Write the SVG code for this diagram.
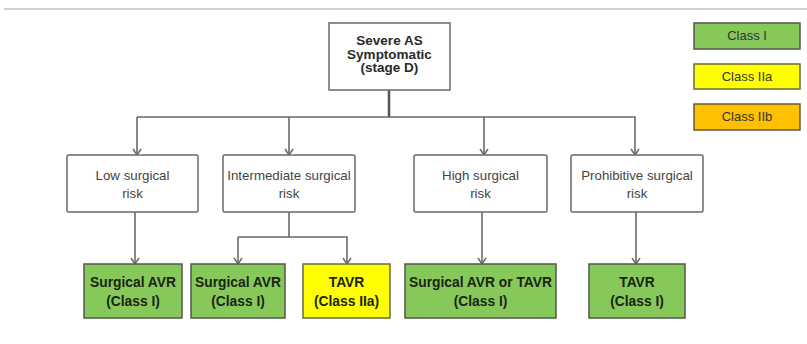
<svg xmlns="http://www.w3.org/2000/svg" width="807" height="344" viewBox="0 0 807 344">
<defs>
<style>
.box{fill:#fff;stroke:#6a6a6a;stroke-width:1.5}
.g{fill:#86c95a;stroke:#4f5a48;stroke-width:1.5}
.y{fill:#ffff00;stroke:#6a6a40;stroke-width:1.5}
.o{fill:#ffc000;stroke:#6a5a30;stroke-width:1.5}
.conn{fill:none;stroke:#6a6a6a;stroke-width:1.6}
.root{font-family:"Liberation Sans",Arial,sans-serif;font-weight:bold;font-size:13.5px;fill:#2a2a2a;text-anchor:middle}
.risk{font-family:"Liberation Sans",Arial,sans-serif;font-size:13.3px;fill:#444;text-anchor:middle}
.res{font-family:"Liberation Sans",Arial,sans-serif;font-weight:bold;font-size:13.8px;fill:#1c2414;text-anchor:middle}
.leg{font-family:"Liberation Sans",Arial,sans-serif;font-size:13px;fill:#333;text-anchor:middle}
</style>
<marker id="arr" viewBox="0 0 10 10" refX="9" refY="5" markerWidth="10" markerHeight="10" markerUnits="userSpaceOnUse" orient="auto">
<path d="M3,1 L9,5 L3,9" fill="none" stroke="#6a6a6a" stroke-width="1.5"/>
</marker>
</defs>
<rect width="807" height="344" fill="#fff"/>
<line x1="4" y1="9" x2="807" y2="9" stroke="#d0d0d0" stroke-width="2"/>

<g id="connectors">
<line x1="389" y1="90" x2="389" y2="117" stroke="#555" stroke-width="2.5"/>
<path class="conn" d="M137,117 H635 V155" marker-end="url(#arr)"/>
<line class="conn" x1="137" y1="117" x2="137" y2="155" marker-end="url(#arr)"/>
<line class="conn" x1="289" y1="117" x2="289" y2="155" marker-end="url(#arr)"/>
<line class="conn" x1="484" y1="117" x2="484" y2="155" marker-end="url(#arr)"/>
<line class="conn" x1="135" y1="212" x2="135" y2="264" marker-end="url(#arr)"/>
<path class="conn" d="M289,212 V237"/>
<path class="conn" d="M238,237 H347 V264" marker-end="url(#arr)"/>
<line class="conn" x1="238" y1="237" x2="238" y2="264" marker-end="url(#arr)"/>
<line class="conn" x1="482" y1="212" x2="482" y2="264" marker-end="url(#arr)"/>
<line class="conn" x1="636" y1="212" x2="636" y2="264" marker-end="url(#arr)"/>
</g>

<g id="root">
<rect class="box" x="329" y="23" width="121" height="67"/>
<text class="root" x="389.5" y="45">Severe AS</text>
<text class="root" x="389.5" y="58.5">Symptomatic</text>
<text class="root" x="389.5" y="72">(stage D)</text>
</g>

<g id="legend-class1">
<rect class="g" x="694" y="23" width="106" height="26"/>
<text class="leg" x="747" y="40">Class I</text>
</g>
<g id="legend-class2a">
<rect class="y" x="694" y="64" width="106" height="25"/>
<text class="leg" x="747" y="81">Class IIa</text>
</g>
<g id="legend-class2b">
<rect class="o" x="694" y="104" width="106" height="26"/>
<text class="leg" x="747" y="121">Class IIb</text>
</g>

<g id="risk-low">
<rect class="box" x="67" y="155" width="131" height="57" rx="1.5"/>
<text class="risk" x="132.5" y="180">Low surgical</text>
<text class="risk" x="132.5" y="198">risk</text>
</g>
<g id="risk-intermediate">
<rect class="box" x="223" y="155" width="132" height="57" rx="1.5"/>
<text class="risk" x="289" y="180">Intermediate surgical</text>
<text class="risk" x="289" y="198">risk</text>
</g>
<g id="risk-high">
<rect class="box" x="414" y="155" width="133" height="57" rx="1.5"/>
<text class="risk" x="480.5" y="180">High surgical</text>
<text class="risk" x="480.5" y="198">risk</text>
</g>
<g id="risk-prohibitive">
<rect class="box" x="571" y="155" width="132" height="57" rx="1.5"/>
<text class="risk" x="637" y="180">Prohibitive surgical</text>
<text class="risk" x="637" y="198">risk</text>
</g>

<g id="res-low">
<rect class="g" x="84" y="264" width="98" height="54"/>
<text class="res" x="133" y="287">Surgical AVR</text>
<text class="res" x="133" y="306">(Class I)</text>
</g>
<g id="res-int-savr">
<rect class="g" x="191" y="264" width="94" height="54"/>
<text class="res" x="238" y="287">Surgical AVR</text>
<text class="res" x="238" y="306">(Class I)</text>
</g>
<g id="res-int-tavr">
<rect class="y" x="303" y="264" width="87" height="54"/>
<text class="res" x="346.5" y="287">TAVR</text>
<text class="res" x="346.5" y="306">(Class IIa)</text>
</g>
<g id="res-high">
<rect class="g" x="405" y="264" width="151" height="54"/>
<text class="res" x="480.5" y="287">Surgical AVR or TAVR</text>
<text class="res" x="480.5" y="306">(Class I)</text>
</g>
<g id="res-prohibitive">
<rect class="g" x="589" y="264" width="96" height="54"/>
<text class="res" x="637" y="287">TAVR</text>
<text class="res" x="637" y="306">(Class I)</text>
</g>
</svg>
